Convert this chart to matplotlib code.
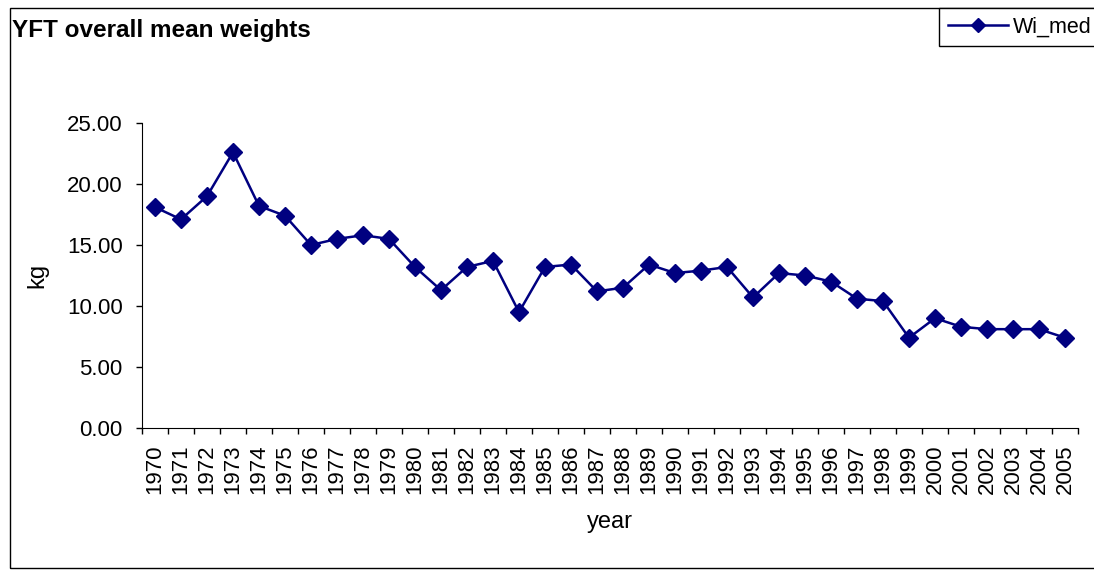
import matplotlib.pyplot as plt
from matplotlib.patches import Rectangle

years = [str(y) for y in range(1970, 2006)]
wi_med = [18.1, 17.1, 19.0, 22.6, 18.2, 17.4, 15.0, 15.5, 15.8, 15.5,
          13.2, 11.3, 13.2, 13.7, 9.5, 13.2, 13.4, 11.2, 11.5, 13.4,
          12.7, 12.9, 13.2, 10.7, 12.7, 12.5, 12.0, 10.6, 10.4, 7.4,
          9.0, 8.3, 8.1, 8.1, 8.1, 7.4]
y_ticks = [0, 5, 10, 15, 20, 25]

plt.rcParams['font.family'] = ['Liberation Sans', 'DejaVu Sans']

fig = plt.figure(figsize=(10.94, 5.71), dpi=100)
ax = fig.add_axes([142 / 1094, 1 - 428 / 571, (1078 - 142) / 1094, (428 - 123) / 571])

x = list(range(len(years)))
line, = ax.plot(x, wi_med, color='#000080', lw=1.8, marker='D', ms=9,
                label='Wi_med')

ax.set_xlim(-0.5, len(years) - 0.5)
ax.set_ylim(0, 25)
ax.set_yticks(y_ticks)
ax.set_yticklabels(['%.2f' % v for v in y_ticks], fontsize=16)
# ticks between categories, labels at the centre
ax.set_xticks([i - 0.5 for i in range(len(years) + 1)])
ax.set_xticklabels([])
ax.set_xticks(x, minor=True)
ax.set_xticklabels(years, minor=True, rotation=90, fontsize=16)
ax.tick_params(axis='x', which='minor', length=0, pad=12)
ax.tick_params(axis='both', which='major', direction='out', length=4, width=1)
ax.tick_params(axis='y', pad=10)
for s in ['top', 'right']:
    ax.spines[s].set_visible(False)

ax.set_xlabel('year', fontsize=17, labelpad=12)
ax.set_ylabel('kg', fontsize=17, labelpad=13)

fig.text(12 / 1094, 1 - 31 / 571, 'YFT overall mean weights', fontsize=17.5,
         fontweight='bold', va='center', ha='left')

# outer chart border (right side runs past the picture)
fig.add_artist(Rectangle((10 / 1094, 1 - 568 / 571), 1.0, 560 / 571,
                         transform=fig.transFigure, fill=False,
                         edgecolor='black', lw=1))

leg = fig.legend(handles=[line], loc='upper left',
                 bbox_to_anchor=(939 / 1094, 1 - 8 / 571),
                 fontsize=15.5, fancybox=False, edgecolor='black',
                 framealpha=1, borderaxespad=0, handlelength=2.8,
                 handletextpad=0.25, borderpad=0.4, markerscale=0.8)
leg.get_frame().set_linewidth(1)

fig.savefig('out.png', dpi=100)
